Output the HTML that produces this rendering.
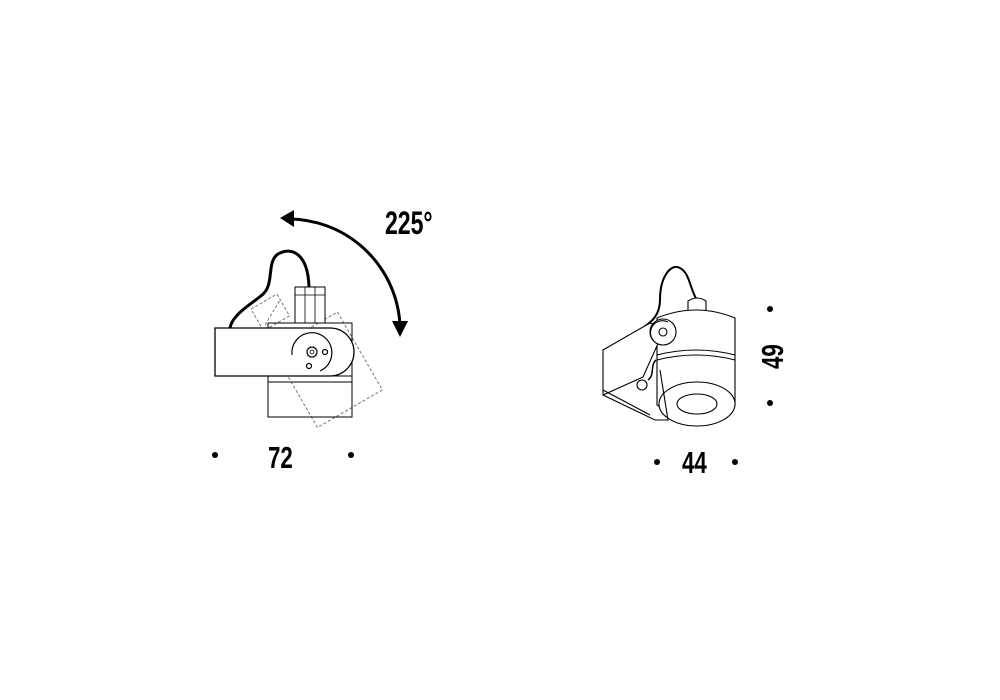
<!DOCTYPE html>
<html><head><style>body{margin:0;background:#fff}svg{display:block}</style></head>
<body>
<svg width="1000" height="700" viewBox="0 0 1000 700" xmlns="http://www.w3.org/2000/svg" font-family="Liberation Sans, sans-serif">
<rect width="1000" height="700" fill="#fff"/>
<!-- LEFT -->
<g fill="none" stroke="#000">
 <path d="M286,219 A112,112 0 0 1 400,325" stroke-width="3"/>
 <polygon points="280,218 294,210 294,227" fill="#000" stroke="none"/>
 <polygon points="400,337 392,321 408,321" fill="#000" stroke="none"/>
 <path d="M230,328 C232,315 250,305 262,295 C275,285 266,262 278,254 C292,246 308,254 309,287" stroke-width="3"/>
 <g stroke="#777" stroke-width="1" stroke-dasharray="3,2">
  <rect x="290" y="325" width="75" height="90" transform="rotate(-30 327 370)"/>
  <rect x="255" y="300" width="30" height="25" transform="rotate(-30 270 312)"/>
  <path d="M265,325 L280,300"/>
 </g>
 <rect x="295" y="287" width="30" height="36" fill="#fff" stroke-width="1"/>
 <path d="M295,295 H325 M305,287 V323 M315,287 V323" stroke-width="0.8"/>
 <rect x="268" y="323" width="84" height="59" fill="none" stroke-width="1"/>
 <rect x="268" y="382" width="84" height="35" fill="none" stroke-width="1"/>
 <path d="M215,328 H330 A24,24 0 0 1 330,376 H215 Z" fill="#fff" stroke-width="1.3"/>
 <path d="M268,376 H352" stroke-width="1"/>
 <path d="M292,355 A20,20 0 1 1 320,371" stroke-width="1.2"/>
 <circle cx="312" cy="352" r="5" stroke-width="1.2"/>
 <circle cx="312" cy="352" r="2" stroke-width="0.8"/>
 <circle cx="325" cy="352" r="2.5" stroke-width="1.2"/>
 <circle cx="309" cy="366" r="2.5" stroke-width="1.2"/>
</g>
<text x="385" y="234" font-size="32" font-weight="bold" transform="translate(385 0) scale(0.72 1) translate(-385 0)" fill="#000">225°</text>
<text x="268" y="468" font-size="31" font-weight="bold" fill="#000" transform="translate(268 0) scale(0.72 1) translate(-268 0)">72</text>
<circle cx="215" cy="455" r="3" fill="#000"/>
<circle cx="351" cy="455" r="3" fill="#000"/>
<!-- RIGHT -->
<g fill="none" stroke="#000" stroke-width="1.1">
 <path d="M638,332 C645,325 660,320 660,300 C660,275 672,263 680,268 C690,273 690,290 697,300" stroke-width="2"/>
 <path d="M688,310 V301 Q697,295 706,301 V310" fill="#fff"/>
 <path d="M657,318 Q696,302 735,318 V405 Q696,430 657,405 Z" fill="#fff"/>
 <path d="M657,355 Q696,345 735,355 M657,360 Q696,350 735,360"/>
 <ellipse cx="697" cy="404" rx="38" ry="22" fill="#fff"/>
 <ellipse cx="697" cy="404" rx="20" ry="10"/>
 <path d="M603,350 L650,323 L665,328 L643,377 L603,395 Z" fill="#fff"/>
 <path d="M603,395 L655,420 L668,420 L660,370"/>
 <path d="M603,390 L650,415"/>
 <circle cx="663" cy="332" r="13" fill="#fff"/>
 <circle cx="663" cy="332" r="4"/>
 <path d="M653,340 A12,12 0 0 1 668,322"/>
 <circle cx="642" cy="385" r="5"/>
 <path d="M648,380 C655,375 650,365 656,360" stroke-width="1.5"/>
</g>
<text x="682" y="473" font-size="31" font-weight="bold" fill="#000" transform="translate(682 0) scale(0.72 1) translate(-682 0)">44</text>
<circle cx="657" cy="462" r="3" fill="#000"/>
<circle cx="735" cy="462" r="3" fill="#000"/>
<circle cx="770" cy="309" r="3" fill="#000"/>
<circle cx="770" cy="403" r="3" fill="#000"/>
<text font-size="31" font-weight="bold" fill="#000" transform="translate(783 369) rotate(-90) scale(0.72 1)">49</text>
</svg>
</body></html>
